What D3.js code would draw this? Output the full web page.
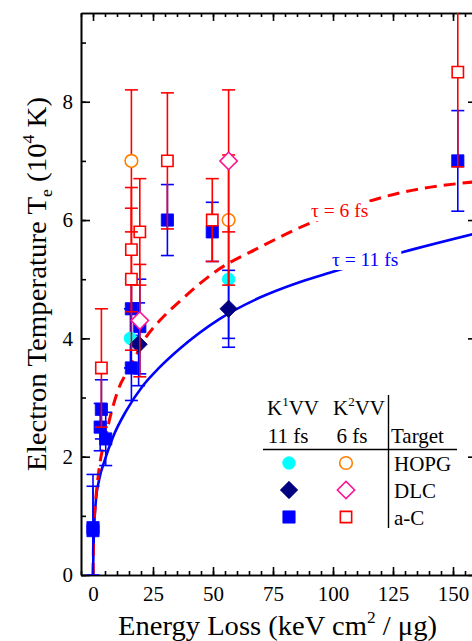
<!DOCTYPE html>
<html lang="en">
<head>
  <meta charset="UTF-8">
  <script src="https://d3js.org/d3.v7.min.js"></script>
  <style>
    body {
      margin: 0;
      padding: 0;
      background: #fff;
      overflow: hidden;
    }
    text {
      font-family: "Liberation Serif", "Times New Roman", serif;
    }
  </style>
</head>
<body>
<script>
  // tick values
  const xMajor = [0, 25, 50, 75, 100, 125, 150];
  const xMinor = d3.range(-5, 161, 5);
  const yMajor = [0, 2, 4, 6, 8];
  const yMinor = [0, 1, 2, 3, 4, 5, 6, 7, 8, 9];

  // K1VV (11 fs), points as [energy loss, Te, error]
  const k1HOPG = [[15.6, 4.0, 0.5], [56.5, 5.0, 1.0]];
  const k1DLC = [[19, 3.9, 0.7], [56.5, 4.5, 0.65]];
  const k1aC = [[0, 0.8, 0.9], [0, 0.75, 0.75], [3, 2.5, 0.4], [3.5, 2.8, 0.5], [5.3, 2.3, 0.45],
    [16, 4.5, 0.5], [16, 3.5, 0.55], [19.5, 4.2, 0.8], [31, 6.0, 0.6], [49.7, 5.8, 0.5], [152, 7.0, 0.85]];

  // K2VV (6 fs)
  const k2HOPG = [[16, 7.0, 1.2], [56.5, 6.0, 1.1]];
  const k2DLC = [[19.5, 4.3, 0.95], [56.5, 7.0, 1.2]];
  const k2aC = [[3.5, 3.5, 1.0], [16, 5.5, 1.05], [16, 5.0, 1.2], [19.5, 5.8, 0.9],
    [31, 7.0, 1.15], [49.7, 6.0, 0.7], [152, 8.5, 1.6]];

  // model curves
  const curve11fs = [[0, 0], [0.3, 0.6], [1.1, 1.21], [2.5, 1.6], [4.9, 1.94], [8.3, 2.33], [13.9, 2.78],
    [20.8, 3.2], [27.5, 3.5], [36, 3.82], [52.8, 4.33], [69.5, 4.69], [86, 4.95], [98.6, 5.11],
    [130, 5.47], [160, 5.78]];
  const curve6fs = [[0, 0], [0.3, 0.7], [1, 1.2], [2.1, 1.65], [5.6, 2.4], [10.4, 3.12], [16, 3.55],
    [21, 3.95], [27.8, 4.3], [36, 4.62], [51.4, 5.14], [70, 5.55], [86, 5.87], [128, 6.46], [160, 6.65]];

  const legendTargets = ['HOPG', 'DLC', 'a-C'];

  const W = 472, H = 641;
  const svg = d3.select('body').append('svg')
    .attr('width', W)
    .attr('height', H);

  const x = d3.scaleLinear().domain([-5, 160]).range([81, 477]);
  const y = d3.scaleLinear().domain([0, 9.5]).range([575, 13]);

  svg.append('clipPath').attr('id', 'plot')
    .append('rect')
    .attr('x', 81).attr('y', 13)
    .attr('width', 396).attr('height', 562);

  // axes (ticks pointing inward)
  function styleAxis(g) {
    g.selectAll('path, line').attr('stroke', '#000').attr('stroke-width', 1.6);
    g.selectAll('text').attr('font-size', 21).attr('fill', '#000')
      .attr('font-family', '"Liberation Serif", serif');
  }

  svg.append('g').attr('transform', 'translate(0,575)')
    .call(d3.axisBottom(x).tickValues(xMinor).tickSizeInner(-4).tickSizeOuter(0).tickFormat(''))
    .call(styleAxis);
  svg.append('g').attr('transform', 'translate(0,575)')
    .call(d3.axisBottom(x).tickValues(xMajor).tickSizeInner(-8).tickSizeOuter(0).tickPadding(11))
    .call(styleAxis);
  svg.append('g').attr('transform', 'translate(0,13)')
    .call(d3.axisTop(x).tickValues(xMinor).tickSizeInner(-4).tickSizeOuter(0).tickFormat(''))
    .call(styleAxis);
  svg.append('g').attr('transform', 'translate(0,13)')
    .call(d3.axisTop(x).tickValues(xMajor).tickSizeInner(-8).tickSizeOuter(0).tickFormat(''))
    .call(styleAxis);

  svg.append('g').attr('transform', 'translate(81,0)')
    .call(d3.axisLeft(y).tickValues(yMinor).tickSizeInner(-5).tickSizeOuter(0).tickFormat(''))
    .call(styleAxis);
  svg.append('g').attr('transform', 'translate(81,0)')
    .call(d3.axisLeft(y).tickValues(yMajor).tickSizeInner(-9).tickSizeOuter(0).tickPadding(8))
    .call(styleAxis);
  svg.append('g').attr('transform', 'translate(477,0)')
    .call(d3.axisRight(y).tickValues(yMinor).tickSizeInner(-5).tickSizeOuter(0).tickFormat(''))
    .call(styleAxis);
  svg.append('g').attr('transform', 'translate(477,0)')
    .call(d3.axisRight(y).tickValues(yMajor).tickSizeInner(-9).tickSizeOuter(0).tickFormat(''))
    .call(styleAxis);

  // axis titles
  const xt = svg.append('text')
    .attr('x', 118).attr('y', 635)
    .attr('font-size', 28)
    .attr('textLength', 319)
    .attr('lengthAdjust', 'spacingAndGlyphs');
  xt.append('tspan').text('Energy Loss (keV cm');
  xt.append('tspan').attr('font-size', 17).attr('dy', -12).text('2');
  xt.append('tspan').attr('dy', 12).text(' / μg)');

  const yt = svg.append('text')
    .attr('transform', 'translate(46,471) rotate(-90)')
    .attr('font-size', 28)
    .attr('textLength', 374)
    .attr('lengthAdjust', 'spacingAndGlyphs');
  yt.append('tspan').text('Electron Temperature T');
  yt.append('tspan').attr('font-size', 17).attr('dy', 6).text('e');
  yt.append('tspan').attr('dy', -6).text(' (10');
  yt.append('tspan').attr('font-size', 17).attr('dy', -12).text('4');
  yt.append('tspan').attr('dy', 12).text(' K)');

  const plot = svg.append('g').attr('clip-path', 'url(#plot)');

  // model curves
  const line = d3.line()
    .x(d => x(d[0]))
    .y(d => y(d[1]))
    .curve(d3.curveMonotoneX);

  plot.append('path')
    .attr('d', line(curve11fs))
    .attr('fill', 'none')
    .attr('stroke', '#0000ff')
    .attr('stroke-width', 2.6);

  plot.append('path')
    .attr('d', line(curve6fs))
    .attr('fill', 'none')
    .attr('stroke', '#ff0000')
    .attr('stroke-width', 3)
    .attr('stroke-dasharray', '12,7');

  // curve labels sit in a gap of the line
  function curveLabel(px, py, color, str) {
    const t = svg.append('text').attr('x', px).attr('y', py)
      .attr('font-size', 19.5).attr('fill', color).text(str);
    const b = t.node().getBBox();
    svg.insert('rect', function () { return t.node(); })
      .attr('x', b.x - 3).attr('y', b.y + 2)
      .attr('width', b.width + 6).attr('height', b.height - 2)
      .attr('fill', '#fff');
  }
  curveLabel(311, 217, '#ff0000', 'τ = 6 fs');
  curveLabel(332, 266, '#0000ff', 'τ = 11 fs');

  // markers
  function marker(sel, shape, fill, stroke) {
    if (shape === 'circle') {
      sel.append('circle').attr('r', 6.3);
    } else if (shape === 'diamond') {
      sel.append('path').attr('d', d3.symbol(d3.symbolSquare, 150)())
        .attr('transform', 'rotate(45)');
    } else {
      sel.append('path').attr('d', d3.symbol(d3.symbolSquare, fill === '#fff' ? 128 : 150)());
    }
    sel.selectAll('circle, path')
      .attr('fill', fill)
      .attr('stroke', stroke)
      .attr('stroke-width', fill === '#fff' ? 1.6 : 0.8);
  }

  function series(data, barColor, shape, fill, stroke) {
    const g = plot.append('g');
    const bars = g.selectAll('g.err').data(data).enter().append('g')
      .attr('stroke', barColor)
      .attr('stroke-width', 1.6);
    bars.append('line')
      .attr('x1', d => x(d[0])).attr('x2', d => x(d[0]))
      .attr('y1', d => y(d[1] - d[2])).attr('y2', d => y(d[1] + d[2]));
    bars.append('line')
      .attr('x1', d => x(d[0]) - 6.5).attr('x2', d => x(d[0]) + 6.5)
      .attr('y1', d => y(d[1] + d[2])).attr('y2', d => y(d[1] + d[2]));
    bars.append('line')
      .attr('x1', d => x(d[0]) - 6.5).attr('x2', d => x(d[0]) + 6.5)
      .attr('y1', d => y(d[1] - d[2])).attr('y2', d => y(d[1] - d[2]));
    g.selectAll('g.pt').data(data).enter().append('g')
      .attr('transform', d => `translate(${x(d[0])},${y(d[1])})`)
      .each(function () { marker(d3.select(this), shape, fill, stroke); });
  }

  series(k1aC, '#0000ff', 'square', '#0000ff', '#0000ff');
  series(k1HOPG, '#0000ff', 'circle', '#00ffff', '#00ffff');
  series(k1DLC, '#0000ff', 'diamond', '#000080', '#000080');
  series(k2aC, '#ff0000', 'square', '#fff', '#ff0000');
  series(k2HOPG, '#ff0000', 'circle', '#fff', '#ff8000');
  series(k2DLC, '#ff0000', 'diamond', '#fff', '#ff1493');

  // legend table
  const leg = svg.append('g');
  const head1 = leg.append('text').attr('x', 293).attr('y', 415)
    .attr('text-anchor', 'middle').attr('font-size', 21);
  head1.append('tspan').text('K');
  head1.append('tspan').attr('font-size', 13).attr('dy', -9).text('1');
  head1.append('tspan').attr('dy', 9).text('VV');
  const head2 = leg.append('text').attr('x', 359).attr('y', 415)
    .attr('text-anchor', 'middle').attr('font-size', 21);
  head2.append('tspan').text('K');
  head2.append('tspan').attr('font-size', 13).attr('dy', -9).text('2');
  head2.append('tspan').attr('dy', 9).text('VV');
  leg.append('text').attr('x', 288).attr('y', 443)
    .attr('text-anchor', 'middle').attr('font-size', 21).text('11 fs');
  leg.append('text').attr('x', 352).attr('y', 443)
    .attr('text-anchor', 'middle').attr('font-size', 21).text('6 fs');
  leg.append('text').attr('x', 391).attr('y', 443)
    .attr('font-size', 21).text('Target');

  leg.append('line').attr('x1', 263).attr('x2', 457).attr('y1', 449.5).attr('y2', 449.5)
    .attr('stroke', '#000').attr('stroke-width', 1.4);
  leg.append('line').attr('x1', 388.5).attr('x2', 388.5).attr('y1', 395).attr('y2', 528)
    .attr('stroke', '#000').attr('stroke-width', 1.4);

  const k1Shapes = [['circle', '#00ffff', '#00ffff'], ['diamond', '#000080', '#000080'], ['square', '#0000ff', '#0000ff']];
  const k2Shapes = [['circle', '#fff', '#ff8000'], ['diamond', '#fff', '#ff1493'], ['square', '#fff', '#ff0000']];
  legendTargets.forEach((name, i) => {
    const cy = 463 + i * 27;
    marker(leg.append('g').attr('transform', `translate(289,${cy})`), ...k1Shapes[i]);
    marker(leg.append('g').attr('transform', `translate(346,${cy})`), ...k2Shapes[i]);
    leg.append('text').attr('x', 394).attr('y', cy + 8)
      .attr('font-size', 21).text(name);
  });
</script>
</body>
</html>
